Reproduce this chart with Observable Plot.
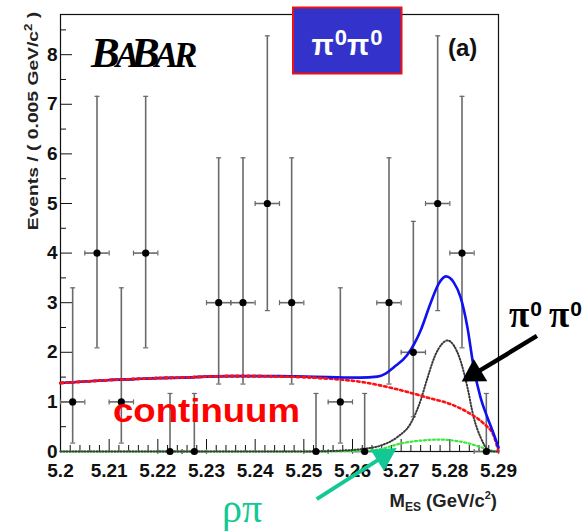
<!DOCTYPE html>
<html>
<head>
<meta charset="utf-8">
<script src="https://cdn.jsdelivr.net/npm/d3@7"></script>
<script src="https://cdn.jsdelivr.net/npm/@observablehq/plot@0.6"></script>
<style>
  html, body { margin: 0; padding: 0; background: #fff; }
  #chart svg { display: block; }
</style>
</head>
<body>
<div id="chart"></div>
<script>
// Histogram of m_ES for B0 -> pi0 pi0 candidates, 0.005 GeV/c^2 bins
const binCenter = [5.2025, 5.2075, 5.2125, 5.2175, 5.2225, 5.2275, 5.2325, 5.2375, 5.2425,
                   5.2475, 5.2525, 5.2575, 5.2625, 5.2675, 5.2725, 5.2775, 5.2825, 5.2875];
const events    = [1, 4, 1, 4, 0, 0, 3, 3, 5, 3, 0, 1, 0, 3, 2, 5, 4, 0];
const errLow    = [0.17, 2.09, 0.17, 2.09, 0, 0, 1.36, 1.36, 2.84, 1.36, 0, 0.17, 0, 1.36, 0.70, 2.84, 2.09, 0];
const errHigh   = [3.30, 7.16, 3.30, 7.16, 1.17, 1.17, 5.92, 5.92, 8.38, 5.92, 1.17, 3.30, 1.17, 5.92, 4.64, 8.38, 7.16, 1.17];
const binHalfWidth = 0.0025;

// Fit projections
const totalX = [5.200, 5.205, 5.210, 5.215, 5.220, 5.225, 5.230, 5.235, 5.240, 5.245, 5.250, 5.255,
                5.2616, 5.2651, 5.2668, 5.2685, 5.2712, 5.274, 5.276, 5.2777, 5.2792, 5.2808, 5.2822,
                5.2836, 5.2849, 5.2863, 5.2877, 5.289, 5.290];
const totalY = [1.38, 1.41, 1.44, 1.46, 1.48, 1.49, 1.51, 1.52, 1.52, 1.52, 1.51, 1.50,
                1.49, 1.51, 1.57, 1.70, 1.94, 2.44, 2.98, 3.38, 3.53, 3.41, 3.11,
                2.51, 1.70, 1.09, 0.69, 0.36, 0.08];

const contX = [5.200, 5.205, 5.210, 5.215, 5.220, 5.225, 5.230, 5.235, 5.240, 5.245, 5.250, 5.255,
               5.262, 5.2685, 5.2753, 5.2808, 5.2842, 5.287, 5.289, 5.290];
const contY = [1.38, 1.41, 1.44, 1.46, 1.48, 1.49, 1.51, 1.52, 1.52, 1.51, 1.50, 1.47,
               1.40, 1.27, 1.09, 0.93, 0.76, 0.56, 0.32, 0.0];

const sigX = [5.200, 5.250, 5.258, 5.262, 5.2658, 5.2692, 5.2719, 5.274, 5.2753, 5.277, 5.2784,
              5.2795, 5.2808, 5.2822, 5.2836, 5.2849, 5.2863, 5.2877, 5.289, 5.290];
const sigY = [0, 0, 0.02, 0.05, 0.12, 0.29, 0.56, 1.03, 1.45, 1.94, 2.17,
              2.24, 2.14, 1.83, 1.30, 0.69, 0.29, 0.05, 0.0, 0.0];

const rhoX = [5.200, 5.250, 5.2616, 5.2658, 5.2699, 5.274, 5.2781, 5.2808, 5.2836, 5.2863, 5.289, 5.290];
const rhoY = [0, 0, 0.01, 0.05, 0.16, 0.22, 0.24, 0.22, 0.17, 0.09, 0.01, 0];

// Axis ticks
const xTicks = [5.20, 5.21, 5.22, 5.23, 5.24, 5.25, 5.26, 5.27, 5.28, 5.29];
const xTickLabels = ["5.2", "5.21", "5.22", "5.23", "5.24", "5.25", "5.26", "5.27", "5.28", "5.29"];
const yTicks = [0, 1, 2, 3, 4, 5, 6, 7, 8];
const yTickLabels = ["0", "1", "2", "3", "4", "5", "6", "7", "8"];
const xMinor = d3.range(0, 46).map(i => +(5.2 + i * 0.002).toFixed(3)).filter(v => !xTicks.some(t => Math.abs(t - v) < 1e-9));
const yMinor = [0.5, 1.5, 2.5, 3.5, 4.5, 5.5, 6.5, 7.5, 8.5];

const bins = binCenter.map((x, i) => ({
  x, x1: x - binHalfWidth, x2: x + binHalfWidth, n: events[i], lo: errLow[i], hi: errHigh[i]
}));
const toPts = (xs, ys) => xs.map((x, i) => ({x, y: ys[i]}));

const W = 583, H = 532;
const mL = 60, mR = 85, mT = 14, mB = 81;
const frameW = W - mL - mR, frameH = H - mT - mB;

// small end caps for error bars
const hCap = {draw(ctx) { ctx.moveTo(-2.5, 0); ctx.lineTo(2.5, 0); }};
const vCap = {draw(ctx) { ctx.moveTo(0, -2.5); ctx.lineTo(0, 2.5); }};

const plot = Plot.plot({
  width: W, height: H,
  marginLeft: mL, marginRight: mR, marginTop: mT, marginBottom: mB,
  x: {domain: [5.2, 5.29]},
  y: {domain: [0, 8.81]},
  style: {fontFamily: "'Liberation Sans', Arial, sans-serif", background: "#fff", color: "#111"},
  marks: [
    Plot.frame({stroke: "#111", strokeWidth: 1.2}),
    // inward ticks
    Plot.ruleX(xMinor, {stroke: "#111", strokeWidth: 1, insetTop: frameH - 6}),
    Plot.ruleX(xTicks, {stroke: "#111", strokeWidth: 1, insetTop: frameH - 12}),
    Plot.ruleY(yMinor, {stroke: "#111", strokeWidth: 1, insetRight: frameW - 6}),
    Plot.ruleY(yTicks, {stroke: "#111", strokeWidth: 1, insetRight: frameW - 12}),
    Plot.axisX({ticks: xTicks, tickSize: 0, tickPadding: 12, label: null,
                tickFormat: (d, i) => xTickLabels[i], fontSize: 19, fontWeight: "bold"}),
    Plot.axisY({ticks: yTicks, tickSize: 0, tickPadding: 3, label: null,
                tickFormat: (d, i) => yTickLabels[i], fontSize: 19, fontWeight: "bold"}),
    // error bars
    Plot.ruleX(bins, {x: "x", y1: "lo", y2: "hi", stroke: "#6a6a6a", strokeWidth: 1.6}),
    Plot.ruleY(bins, {y: "n", x1: "x1", x2: "x2", stroke: "#6a6a6a", strokeWidth: 1.6}),
    Plot.dot(bins, {x: "x", y: "hi", symbol: hCap, r: 3, stroke: "#6a6a6a", strokeWidth: 1.2, fill: "none"}),
    Plot.dot(bins.filter(d => d.lo > 0), {x: "x", y: "lo", symbol: hCap, r: 3, stroke: "#6a6a6a", strokeWidth: 1.2, fill: "none"}),
    Plot.dot(bins, {x: "x1", y: "n", symbol: vCap, r: 3, stroke: "#6a6a6a", strokeWidth: 1.2, fill: "none"}),
    Plot.dot(bins, {x: "x2", y: "n", symbol: vCap, r: 3, stroke: "#6a6a6a", strokeWidth: 1.2, fill: "none"}),
    // fit components
    Plot.line(toPts(rhoX, rhoY), {x: "x", y: "y", curve: "monotone-x", stroke: "#3ee83e", strokeWidth: 2.2, strokeDasharray: "2,2.5"}),
    Plot.line(toPts(sigX, sigY), {x: "x", y: "y", curve: "monotone-x", stroke: "#3a3a3a", strokeWidth: 2, strokeDasharray: "1,2"}),
    Plot.line(toPts(contX, contY), {x: "x", y: "y", curve: "monotone-x", stroke: "#ff1010", strokeWidth: 2.6, strokeDasharray: "2.5,3"}),
    Plot.line(toPts(totalX, totalY), {x: "x", y: "y", curve: "monotone-x", stroke: "#1010f0", strokeWidth: 2.6}),
    Plot.line(toPts(contX, contY).filter(d => d.x <= 5.255), {x: "x", y: "y", curve: "monotone-x", stroke: "#ff1010", strokeWidth: 2.6, strokeDasharray: "2.5,3"}),
    // data points
    Plot.dot(bins, {x: "x", y: "n", r: 3.6, fill: "#000"})
  ]
});

document.getElementById("chart").appendChild(plot);

const svg = d3.select(plot);
const X = v => plot.scale("x").apply(v);
const Y = v => plot.scale("y").apply(v);
const SANS = "'Liberation Sans', Arial, sans-serif";
const SERIF = "'Liberation Serif', 'Times New Roman', serif";

// arrows with filled heads, anchored in data coordinates
function arrow(from, to, color, width, headLen, headW) {
  const x0 = X(from[0]), y0 = Y(from[1]), x1 = X(to[0]), y1 = Y(to[1]);
  const dx = x1 - x0, dy = y1 - y0, L = Math.hypot(dx, dy), ux = dx / L, uy = dy / L;
  const bx = x1 - ux * headLen, by = y1 - uy * headLen;
  svg.append("line")
    .attr("x1", x0).attr("y1", y0).attr("x2", bx + ux * 2).attr("y2", by + uy * 2)
    .attr("stroke", color).attr("stroke-width", width);
  svg.append("path")
    .attr("d", `M${x1},${y1}L${bx - uy * headW / 2},${by + ux * headW / 2}L${bx + uy * headW / 2},${by - ux * headW / 2}Z`)
    .attr("fill", color);
}
arrow([5.2980, 2.32], [5.28254, 1.40], "#000", 4.5, 22, 26);
arrow([5.25275, -0.97], [5.26918, 0.06], "#14c896", 4, 23, 25);

// BaBar logo: large B's with small tucked-in A's
const logo = svg.append("text").attr("x", 91).attr("y", 67).attr("text-anchor", "start")
  .attr("font-family", SERIF)
  .attr("font-style", "italic").attr("font-weight", "bold").attr("fill", "#000");
logo.append("tspan").attr("font-size", 43).text("B");
logo.append("tspan").attr("font-size", 35).attr("dx", -4).text("A");
logo.append("tspan").attr("font-size", 43).attr("dx", -8).text("B");
logo.append("tspan").attr("font-size", 35).attr("dx", -5).text("A");
logo.append("tspan").attr("font-size", 35).attr("dx", -4).text("R");

// channel box
svg.append("rect").attr("x", 293).attr("y", 7.5).attr("width", 108.5).attr("height", 66)
  .attr("fill", "#3333cc").attr("stroke", "#ee1111").attr("stroke-width", 2);
const boxText = svg.append("text").attr("x", 347).attr("y", 55).attr("text-anchor", "middle")
  .attr("fill", "#fff").attr("font-weight", "bold").attr("font-family", SANS);
boxText.append("tspan").attr("font-size", 29).text("π");
boxText.append("tspan").attr("font-size", 22).attr("dy", -10).attr("dx", 1).text("0");
boxText.append("tspan").attr("font-size", 29).attr("dy", 10).text("π");
boxText.append("tspan").attr("font-size", 22).attr("dy", -10).attr("dx", 1).text("0");

// panel tag
svg.append("text").attr("x", 448).attr("y", 56).attr("text-anchor", "start")
  .attr("font-size", 24).attr("font-weight", "bold")
  .attr("font-family", SANS).attr("fill", "#111").text("(a)");

// component labels
svg.append("text").attr("x", 113).attr("y", 422).attr("text-anchor", "start")
  .attr("font-size", 33).attr("font-weight", "bold")
  .attr("font-family", SANS).attr("fill", "#ff0000")
  .attr("textLength", 187).attr("lengthAdjust", "spacingAndGlyphs").text("continuum");

const sigLabel = svg.append("text").attr("x", 509).attr("y", 327).attr("text-anchor", "start")
  .attr("fill", "#000").attr("font-weight", "bold");
sigLabel.append("tspan").attr("font-size", 37).attr("font-family", SERIF).text("π");
sigLabel.append("tspan").attr("font-size", 21).attr("dy", -11).attr("dx", 1).attr("font-family", SANS).text("0");
sigLabel.append("tspan").attr("font-size", 37).attr("dy", 11).attr("dx", 7).attr("font-family", SERIF).text("π");
sigLabel.append("tspan").attr("font-size", 21).attr("dy", -11).attr("dx", 1).attr("font-family", SANS).text("0");

svg.append("text").attr("x", 222).attr("y", 522).attr("text-anchor", "start")
  .attr("font-size", 40).attr("font-family", SERIF).attr("fill", "#14c896").text("ρπ");

// axis titles
const xTitle = svg.append("text").attr("x", 497).attr("y", 507).attr("text-anchor", "end")
  .attr("font-weight", "bold").attr("fill", "#222").attr("font-size", 18.5)
  .attr("font-family", SANS);
xTitle.append("tspan").text("M");
xTitle.append("tspan").attr("font-size", 12).attr("dy", 4).text("ES");
xTitle.append("tspan").attr("dy", -4).text(" (GeV/c");
xTitle.append("tspan").attr("font-size", 11).attr("dy", -8).text("2");
xTitle.append("tspan").attr("dy", 8).text(")");

const yTitle = svg.append("text").attr("transform", "translate(38,121) rotate(-90) scale(1.33,1)")
  .attr("text-anchor", "middle").attr("font-weight", "bold").attr("fill", "#222").attr("font-size", 14.5)
  .attr("font-family", SANS);
yTitle.append("tspan").text("Events / ( 0.005 GeV/c");
yTitle.append("tspan").attr("font-size", 10).attr("dy", -6).text("2");
yTitle.append("tspan").attr("dy", 6).text(" )");
</script>
</body>
</html>
